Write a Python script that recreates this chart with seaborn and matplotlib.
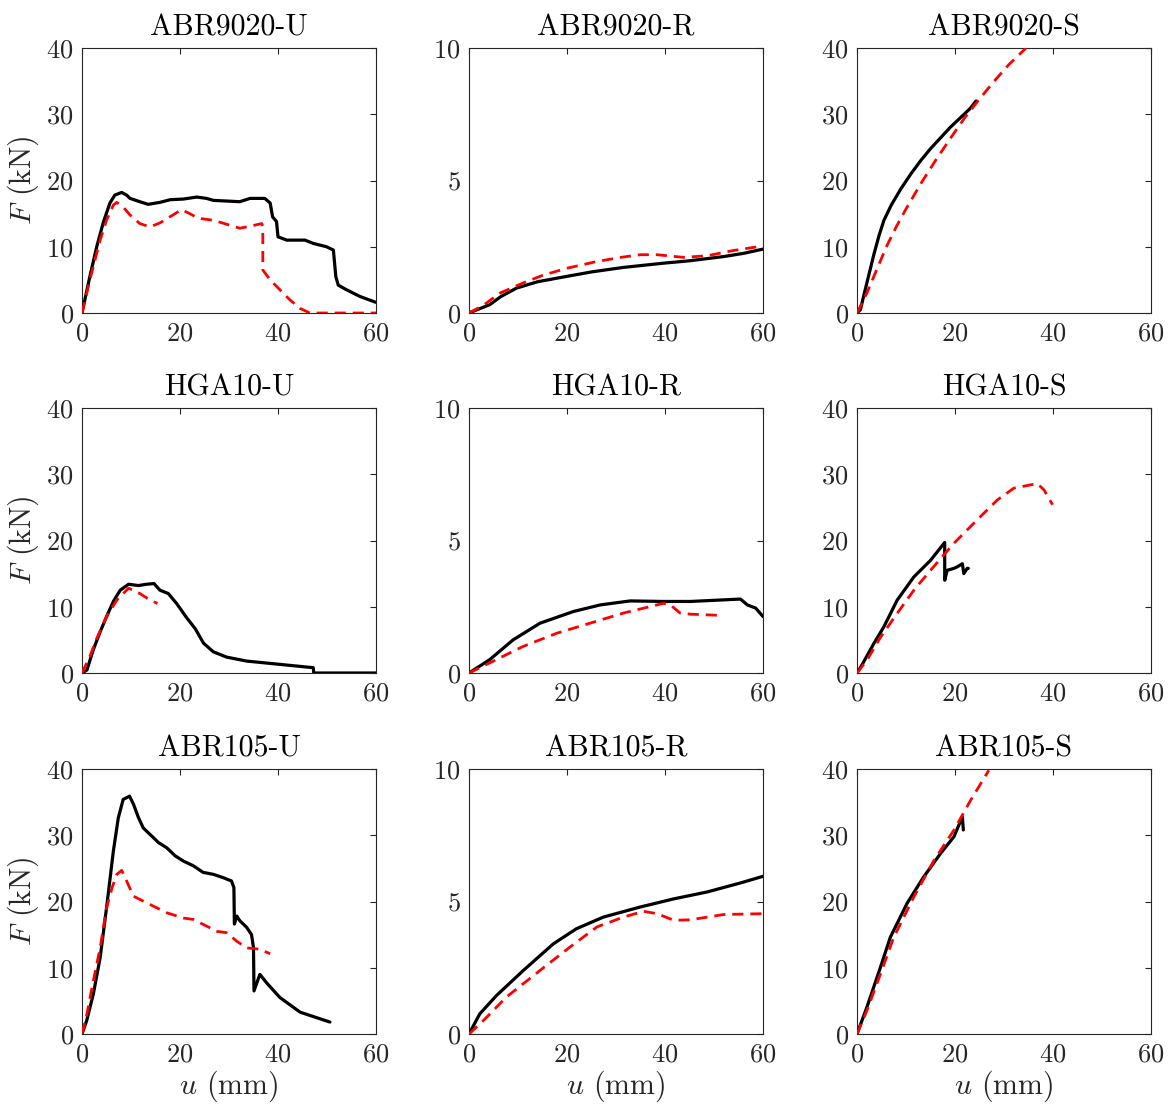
import numpy as np
import pandas as pd
import matplotlib
matplotlib.use("Agg")
import matplotlib.pyplot as plt
import seaborn as sns

sns.set_theme(style="white")
plt.rcParams['font.family'] = 'serif'
plt.rcParams['font.serif'] = ['cmr10', 'DejaVu Serif']
plt.rcParams['mathtext.fontset'] = 'cm'
plt.rcParams['axes.formatter.use_mathtext'] = True
plt.rcParams['axes.unicode_minus'] = False

titles = ["ABR9020-U", "ABR9020-R", "ABR9020-S",
          "HGA10-U", "HGA10-R", "HGA10-S",
          "ABR105-U", "ABR105-R", "ABR105-S"]
ylims = [40, 10, 40, 40, 10, 40, 40, 10, 40]
x_ticks = [0, 20, 40, 60]
y_ticks_40 = [0, 10, 20, 30, 40]
y_ticks_10 = [0, 5, 10]

# ---- ABR9020-U ----
exp1_u = [0, 1.6, 3, 4.4, 5.7, 6.7, 8.1, 9.1, 9.8, 11.8, 13.5, 15.9, 18, 20.7, 23.4, 25.4, 26.8, 29.5, 32.2, 34.3, 37.3, 38.4, 38.9, 39.7, 40, 41.8, 43.8, 45.5, 47.2, 49.9, 51.3, 51.8, 52.3, 54, 56.7, 60]
exp1_F = [0, 5.5, 10, 13.8, 16.6, 17.8, 18.2, 17.8, 17.3, 16.8, 16.4, 16.7, 17.1, 17.2, 17.5, 17.3, 17, 16.9, 16.8, 17.3, 17.3, 16.6, 14.5, 13.8, 11.5, 11, 11, 11, 10.5, 10, 9.5, 5.5, 4.2, 3.5, 2.5, 1.6]
sim1_u = [0, 1.6, 3.7, 5, 6.4, 7.1, 8.4, 9.8, 11.8, 13.9, 15.9, 17.9, 20.3, 22, 23.7, 26.8, 29.5, 32.2, 34.3, 36.7, 36.9, 36.9, 38.4, 40.4, 42.4, 44.5, 46.5, 60]
sim1_F = [0, 5, 11, 14, 16.3, 16.7, 16, 14.8, 13.5, 13, 13.6, 14.5, 15.6, 15, 14.3, 14, 13.4, 12.8, 13.1, 13.5, 13, 6.5, 5, 3.5, 2, 0.7, 0, 0]

# ---- ABR9020-R ----
exp2_u = [0, 2, 4.2, 6.5, 9.7, 14, 19.9, 25, 31.5, 39.7, 45, 52, 56, 60]
exp2_F = [0, 0.15, 0.31, 0.62, 0.94, 1.18, 1.38, 1.55, 1.72, 1.88, 1.97, 2.13, 2.25, 2.41]
sim2_u = [0, 3, 6.3, 11, 15, 20, 26, 31, 35, 38.4, 41, 43.8, 48.6, 54, 60]
sim2_F = [0, 0.3, 0.75, 1.13, 1.42, 1.69, 1.94, 2.1, 2.2, 2.2, 2.15, 2.1, 2.16, 2.36, 2.53]

# ---- ABR9020-S ----
exp3_u = [0, 0.7, 1.5, 2.5, 3.5, 4.5, 5.5, 7, 9, 11, 13, 15, 17, 19, 21, 23, 24.3]
exp3_F = [0, 0.5, 3, 6, 9, 11.7, 14, 16.3, 18.8, 21, 23, 24.8, 26.4, 28, 29.4, 30.8, 32]
sim3_u = [0, 2, 4, 6, 8, 10, 13, 16, 19, 22, 25, 28, 31, 34.5]
sim3_F = [0, 3, 6.5, 10, 13, 15.7, 19.5, 23, 26.3, 29.5, 32.3, 35, 37.5, 40]

# ---- HGA10-U ----
exp4_u = [0, 1, 2.3, 3.7, 5, 6.4, 7.8, 9.5, 11.5, 13.2, 14.7, 15.9, 17.6, 19.3, 21.4, 23.1, 24.8, 26.8, 29.5, 33.6, 40.4, 47.2, 47.3, 60]
exp4_F = [0, 0.45, 3.5, 6.2, 8.5, 10.8, 12.5, 13.4, 13.2, 13.4, 13.5, 12.5, 12, 10.5, 8.3, 6.7, 4.5, 3.2, 2.4, 1.8, 1.3, 0.8, 0, 0]
sim4_u = [0, 1.6, 3, 5, 7.1, 9.5, 11.8, 13.9, 15.4]
sim4_F = [0, 2.5, 5.2, 8.5, 11, 12.8, 12, 11, 10.5]

# ---- HGA10-R ----
exp5_u = [0, 4.2, 9, 14.5, 21.3, 26.8, 32.9, 39.7, 45.2, 55.4, 56.8, 58.5, 60]
exp5_F = [0, 0.5, 1.25, 1.88, 2.32, 2.57, 2.72, 2.7, 2.7, 2.79, 2.57, 2.45, 2.13]
sim5_u = [0, 4.2, 11, 17.9, 24.7, 31.5, 39.7, 41.1, 43.1, 45.2, 52]
sim5_F = [0, 0.38, 1.0, 1.5, 1.88, 2.26, 2.63, 2.57, 2.26, 2.22, 2.17]

# ---- HGA10-S ----
exp6_u = [0, 1, 3.4, 5.5, 8.2, 11.6, 15, 17.9, 17.9, 18.4, 19.8, 20.4, 21.5, 21.8, 22.5, 22.7]
exp6_F = [0, 1.2, 4.4, 7, 11, 14.5, 17, 19.7, 14, 15.5, 15.8, 16, 16.5, 15, 15.8, 15.8]
sim6_u = [0, 2, 4.8, 8.2, 11.6, 15, 19.8, 24.5, 28.6, 32, 36.8, 38.2, 39.9]
sim6_F = [0, 1.9, 5.4, 9, 12.5, 15.5, 19.6, 23.1, 26.1, 27.9, 28.6, 27.6, 25.4]

# ---- ABR105-U ----
exp7_u = [0, 0.95, 2.3, 3.7, 5, 6.4, 7.4, 8.4, 9.7, 10.5, 11.5, 12.5, 14.2, 15.6, 17.3, 19, 20.7, 22.7, 24.7, 26.8, 28.8, 30.5, 31, 31.1, 31.6, 32.2, 32.9, 33.6, 34.6, 35, 35.1, 36.3, 37.7, 40.4, 44.5, 50.6]
exp7_F = [0, 2, 6, 11.5, 19, 27.6, 32.6, 35.4, 35.9, 34.7, 32.7, 31.1, 29.9, 28.9, 28.1, 26.9, 26.1, 25.4, 24.4, 24.1, 23.6, 23.1, 22.1, 16.6, 17.8, 17.1, 16.6, 16.1, 15, 13, 6.5, 9, 7.7, 5.5, 3.3, 1.8]
sim7_u = [0, 1, 2.3, 3.7, 5, 6.1, 7.1, 8.1, 9.1, 10.5, 13.2, 17.3, 20.7, 22.7, 25.4, 27.5, 29.5, 31.6, 33.6, 36.3, 38.4]
sim7_F = [0, 3, 8, 13, 19, 22, 24.1, 24.7, 23.1, 20.8, 19.8, 18.3, 17.5, 17.3, 16.3, 15.5, 15.3, 14, 13, 12.8, 12.1]

# ---- ABR105-R ----
exp8_u = [0, 2.2, 5.6, 11.1, 17.2, 21.9, 27.4, 34.9, 41.8, 48.6, 55.4, 60]
exp8_F = [0, 0.76, 1.45, 2.4, 3.4, 3.97, 4.41, 4.79, 5.1, 5.36, 5.7, 5.95]
sim8_u = [0, 2.9, 7.6, 14.5, 20.6, 26.1, 31.5, 35.6, 38.4, 41.8, 45.2, 52, 60]
sim8_F = [0, 0.5, 1.39, 2.4, 3.28, 4.04, 4.41, 4.63, 4.54, 4.29, 4.31, 4.51, 4.54]

# ---- ABR105-S ----
exp9_u = [0, 2, 4.8, 6.8, 10.2, 13.6, 17, 19.8, 21.5, 21.7]
exp9_F = [0, 4, 10.1, 14.6, 19.7, 23.7, 27.2, 29.8, 32.8, 30.8]
sim9_u = [0, 2, 4.8, 7.5, 11.6, 15.7, 19.8, 23.2, 26.9]
sim9_F = [0, 3.5, 9.1, 14.6, 20.7, 26.2, 30.8, 35.3, 39.8]

exp_u = [exp1_u, exp2_u, exp3_u, exp4_u, exp5_u, exp6_u, exp7_u, exp8_u, exp9_u]
exp_F = [exp1_F, exp2_F, exp3_F, exp4_F, exp5_F, exp6_F, exp7_F, exp8_F, exp9_F]
sim_u = [sim1_u, sim2_u, sim3_u, sim4_u, sim5_u, sim6_u, sim7_u, sim8_u, sim9_u]
sim_F = [sim1_F, sim2_F, sim3_F, sim4_F, sim5_F, sim6_F, sim7_F, sim8_F, sim9_F]

W, H = 1171, 1110
fig = plt.figure(figsize=(W / 100, H / 100), dpi=100)
fig.patch.set_facecolor('white')

col_left = [82, 469, 857]
row_top = [48, 408, 769]
aw, ah = 294, 265
axcol = (0.15, 0.15, 0.15)

for i in range(9):
    r, c = divmod(i, 3)
    ax = fig.add_axes([col_left[c] / W, 1 - (row_top[r] + ah) / H, aw / W, ah / H])
    dexp = pd.DataFrame({'u': exp_u[i], 'F': exp_F[i]})
    dsim = pd.DataFrame({'u': sim_u[i], 'F': sim_F[i]})
    sns.lineplot(data=dexp, x='u', y='F', sort=False, estimator=None, ax=ax,
                 color='black', linewidth=2.3, zorder=3)
    sns.lineplot(data=dsim, x='u', y='F', sort=False, estimator=None, ax=ax,
                 color='red', linewidth=2.0, linestyle=(0, (4, 2.5)), zorder=4)
    ax.set_xlim(0, 60)
    ax.set_ylim(0, ylims[i])
    ax.set_xticks(x_ticks)
    ax.set_yticks(y_ticks_40 if ylims[i] == 40 else y_ticks_10)
    ax.tick_params(direction='in', length=4, width=0.8, colors=axcol,
                   labelsize=19, top=True, right=True, pad=6)
    for sp in ax.spines.values():
        sp.set_color(axcol)
        sp.set_linewidth(0.8)
    ax.set_title(titles[i], fontsize=21.5, pad=9, color='black')
    ax.set_xlabel("$u$ (mm)" if r == 2 else "", fontsize=21.5, color=axcol, labelpad=2)
    ax.set_ylabel("$F$ (kN)" if c == 0 else "", fontsize=21.5, color=axcol, labelpad=4)
    ax.grid(False)

fig.savefig("out.png", dpi=100, facecolor='white')
